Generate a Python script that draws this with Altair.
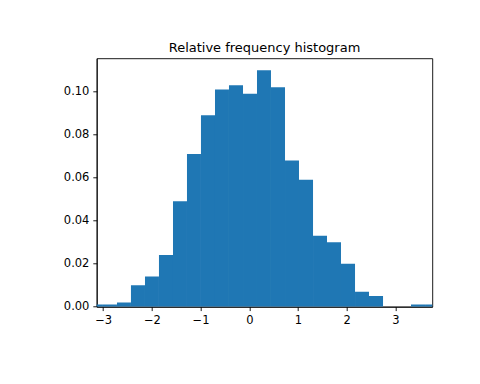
import altair as alt
import pandas as pd

# Bin edges (data units)
bin_edges = [-3.291, -3.004, -2.716, -2.429, -2.141, -1.854, -1.566, -1.279,
             -0.992, -0.704, -0.417, -0.129, 0.158, 0.445, 0.733, 1.020,
             1.308, 1.595, 1.882, 2.170, 2.457, 2.745, 3.032, 3.319, 3.607, 3.894]
# Relative frequency of each bin
rel_freq = [0.001, 0.001, 0.002, 0.010, 0.014, 0.024, 0.049, 0.071, 0.089,
            0.101, 0.103, 0.099, 0.110, 0.102, 0.068, 0.059, 0.033, 0.030,
            0.020, 0.007, 0.005, 0.000, 0.000, 0.001, 0.001]
x_ticks = [-3, -2, -1, 0, 1, 2, 3]
y_ticks = [0.00, 0.02, 0.04, 0.06, 0.08, 0.10]
title_text = "Relative frequency histogram"

df = pd.DataFrame({
    "x0": bin_edges[:-1],
    "x1": bin_edges[1:],
    "freq": rel_freq,
})

FONT = "DejaVu Sans"

chart = alt.Chart(df).mark_rect(color="#1f77b4", clip=True, strokeWidth=0).encode(
    x=alt.X("x0:Q",
            scale=alt.Scale(domain=[-3.132, 3.756], nice=False, zero=False),
            axis=alt.Axis(values=x_ticks, format="d", title=None, grid=False,
                          domainColor="black", domainWidth=0.9,
                          tickColor="black", tickWidth=0.9, tickSize=3.9,
                          labelPadding=3.9, labelFont=FONT, labelFontSize=11.5,
                          labelColor="black", labelFlush=False)),
    x2="x1:Q",
    y=alt.Y("freq:Q",
            scale=alt.Scale(domain=[0, 0.1155], nice=False, zero=True),
            axis=alt.Axis(values=y_ticks, format=".2f", title=None, grid=False,
                          domainColor="black", domainWidth=0.9,
                          tickColor="black", tickWidth=0.9, tickSize=3.9,
                          labelPadding=3.9, labelFont=FONT, labelFontSize=11.5,
                          labelColor="black", labelFlush=False)),
    y2=alt.datum(0),
).properties(
    width=335.6,
    height=248.4,
    autosize="none",
    padding={"left": 88.7, "top": 50.3, "right": 30, "bottom": 60},
    title=alt.TitleParams(title_text, font=FONT, fontSize=13.0,
                          fontWeight="normal", color="black",
                          anchor="middle", offset=6.7, baseline="alphabetic",
                          dy=13.5),
).configure_view(
    stroke="black", strokeWidth=0.9
)

chart.save("out.html", embed_options={"renderer": "svg", "actions": False})
